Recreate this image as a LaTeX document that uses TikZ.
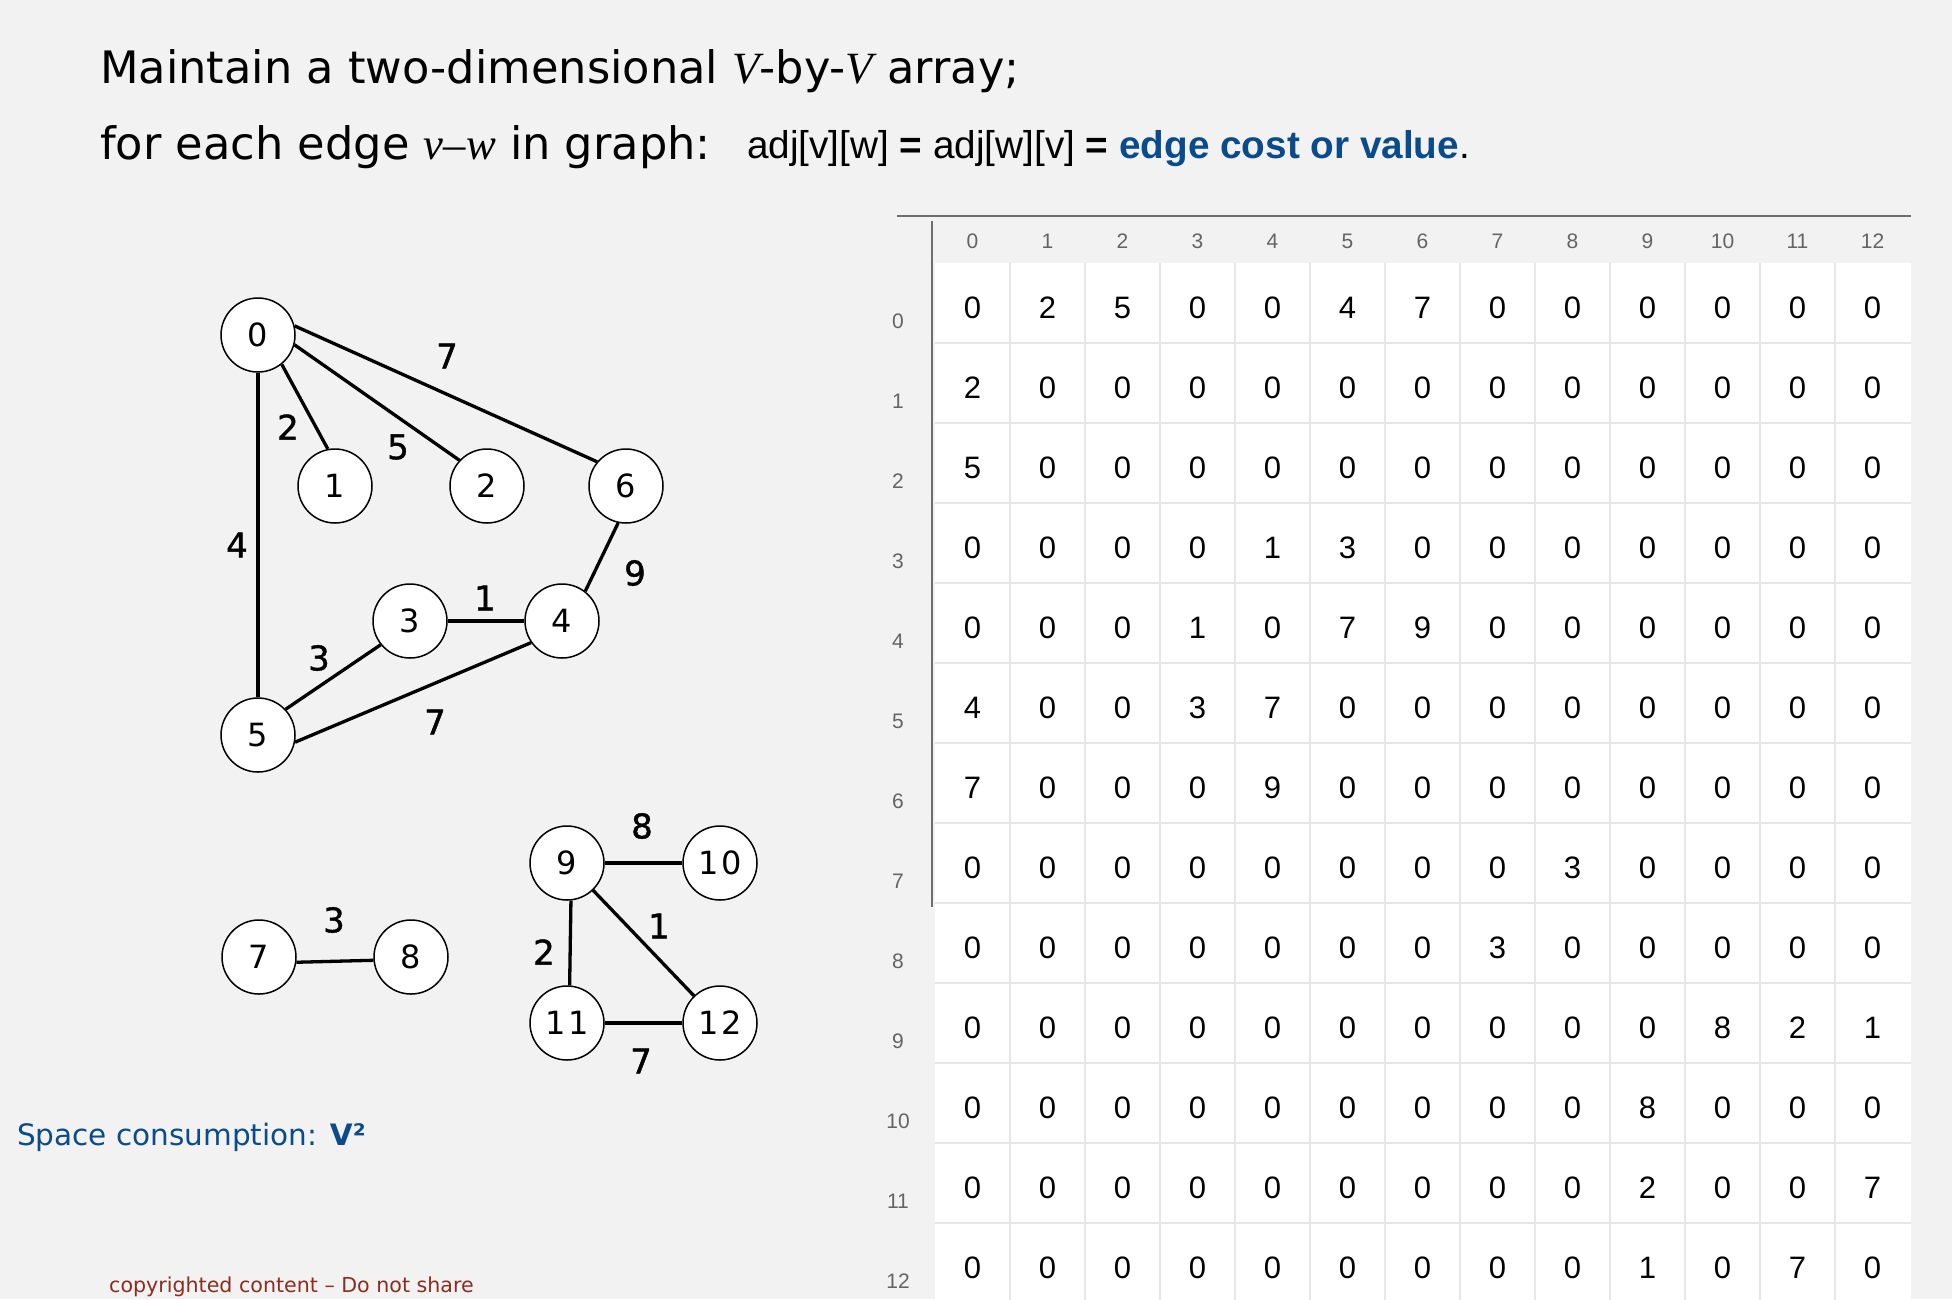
\documentclass[tikz,border=0pt]{standalone}
\usepackage{fontspec}
\setmainfont{DejaVu Sans}
\newfontfamily\lucida{DejaVu Sans}
\newfontfamily\lucidaSB[FakeBold=1.2]{DejaVu Sans}
\newfontfamily\arialf{Liberation Sans}
\newfontfamily\serifit{Liberation Serif}
\definecolor{bgc}{RGB}{242,242,242}
\definecolor{blueT}{RGB}{10,75,140}
\definecolor{redC}{RGB}{140,45,30}
\definecolor{labgray}{RGB}{100,100,100}
\definecolor{linegray}{RGB}{110,110,110}
\definecolor{gridc}{RGB}{230,232,232}
\newcommand\myvtxfont{\lucida\fontsize{32}{36}\selectfont}
\newcommand\myedgefont{\lucidaSB\fontsize{34}{38}\selectfont}
\newcommand\mycellfont{\arialf\fontsize{31}{36}\selectfont}
\newcommand\myhdrfont{\arialf\fontsize{21}{24}\selectfont}
\tikzset{
  vtx/.style={circle, draw, line width=1.5pt, fill=white, minimum size=74pt, inner sep=0pt, font=\myvtxfont},
  elab/.style={inner sep=0pt, font=\myedgefont},
  conn/.style={line width=3.3pt},
  cell/.style={anchor=base, inner sep=0pt, font=\mycellfont},
  hdr/.style={anchor=base, inner sep=0pt, font=\myhdrfont, text=labgray},
  tline/.style={line width=2.5pt, draw=linegray},
  gridl/.style={line width=2.5pt, draw=gridc},
  txt/.style={anchor=base west, inner sep=0pt}
}
\begin{document}
\begin{tikzpicture}[x=1pt,y=-1pt]
\useasboundingbox (0,0) rectangle (1952,1299);
\fill[bgc] (0,0) rectangle (1952,1299);

% title
\node[txt] (t1) at (100,83) {\lucida\fontsize{44.7}{50}\selectfont Maintain a two-dimensional {\serifit\itshape V}-by-{\serifit\itshape V} array;};
\node[txt] (t2) at (100,159) {\lucida\fontsize{44.7}{50}\selectfont for each edge {\serifit\itshape v–w} in graph:};
\node[txt] (t3) at (747,158) {\arialf\fontsize{38.7}{44}\selectfont adj[v][w] \textbf{=} adj[w][v] \textbf{=} \textcolor{blueT}{\textbf{edge cost or value}}.};

% table
\begin{scope}
\clip (880,170) rectangle (1952,1299);
\fill[white] (935,263) rectangle (1911,1310);
\foreach \k in {1,...,12} {
  \draw[gridl] ({935+75*\k},263) -- ({935+75*\k},1310);
  \draw[gridl] (935,{263+80*\k}) -- (1911,{263+80*\k});
}
\draw[tline] (897,216) -- (1911,216);
\draw[tline] (932,221) -- (932,907);
\foreach \c in {0,...,12} {
  \node[hdr] (h\c) at ({972.5+75*\c},248) {\c};
  \node[hdr] (r\c) at (898,{328+80*\c}) {\c};
}
\foreach \row [count=\r from 0] in {
  {0,2,5,0,0,4,7,0,0,0,0,0,0},
  {2,0,0,0,0,0,0,0,0,0,0,0,0},
  {5,0,0,0,0,0,0,0,0,0,0,0,0},
  {0,0,0,0,1,3,0,0,0,0,0,0,0},
  {0,0,0,1,0,7,9,0,0,0,0,0,0},
  {4,0,0,3,7,0,0,0,0,0,0,0,0},
  {7,0,0,0,9,0,0,0,0,0,0,0,0},
  {0,0,0,0,0,0,0,0,3,0,0,0,0},
  {0,0,0,0,0,0,0,3,0,0,0,0,0},
  {0,0,0,0,0,0,0,0,0,0,8,2,1},
  {0,0,0,0,0,0,0,0,0,8,0,0,0},
  {0,0,0,0,0,0,0,0,0,2,0,0,7},
  {0,0,0,0,0,0,0,0,0,1,0,7,0}} {
  \foreach \v [count=\c from 0] in \row {
    \node[cell] (m\r-\c) at ({972.5+75*\c},{318+80*\r}) {\v};
  }
}
\end{scope}

% graph vertices
\node[vtx] (n0) at (258,335) {0};
\node[vtx] (n1) at (335,486) {1};
\node[vtx] (n2) at (487,486) {2};
\node[vtx] (n6) at (626,486) {6};
\node[vtx] (n3) at (410,621) {3};
\node[vtx] (n4) at (562,621) {4};
\node[vtx] (n5) at (258,735) {5};
\node[vtx] (n7) at (259,957) {7};
\node[vtx] (n8) at (411,957) {8};
\node[vtx] (n9) at (567,863) {9};
\node[vtx] (n10) at (720,863) {1\kern3pt0};
\node[vtx] (n11) at (567,1023) {1\kern3pt1};
\node[vtx] (n12) at (720,1023) {1\kern3pt2};

% edges
\draw[conn] (n0.-51) -- (n1.101);
\draw[conn] (n0.-15) -- (n2.137);
\draw[conn] (n0.14) -- (n6.140);
\draw[conn] (n0) -- (n5);
\draw[conn] (n6.-102) -- (n4.52);
\draw[conn] (n3) -- (n4);
\draw[conn] (n5.43) -- (n3.219);
\draw[conn] (n5.-11) -- (n4.215);
\draw[conn] (n7.-8) -- (n8.185);
\draw[conn] (n9) -- (n10);
\draw[conn] (n9.-84) -- (n11.86);
\draw[conn] (n9) -- (n12);
\draw[conn] (n11) -- (n12);

% edge labels
\node[elab] (l06) at (447,356) {7};
\node[elab] (l01) at (288,427) {2};
\node[elab] (l02) at (398,447) {5};
\node[elab] (l05) at (237,545) {4};
\node[elab] (l64) at (635,573) {9};
\node[elab] (l34) at (485,598) {1};
\node[elab] (l53) at (319,658) {3};
\node[elab] (l54) at (435,722) {7};
\node[elab] (l78) at (334,920) {3};
\node[elab] (l910) at (642,826) {8};
\node[elab] (l912) at (659,926) {1};
\node[elab] (l911) at (544,952) {2};
\node[elab] (l1112) at (641,1061) {7};

% bottom texts
\node[txt] (sc) at (17,1145) {\lucida\fontsize{29.5}{36}\selectfont\color{blueT}Space consumption: \textbf{V²}};
\node[txt] (cp) at (109,1292) {\lucida\fontsize{20.6}{24}\selectfont\color{redC}copyrighted content – Do not share};
\end{tikzpicture}
\end{document}
